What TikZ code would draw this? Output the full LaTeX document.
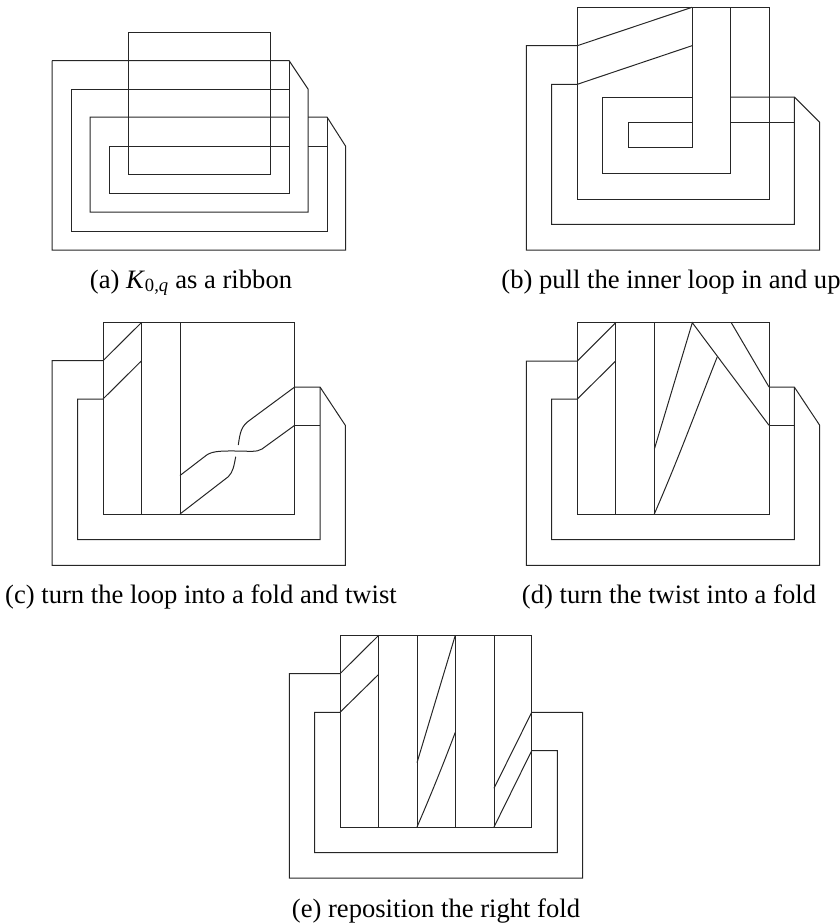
\documentclass[tikz,border=0pt]{standalone}
\usepackage{fontspec}
\setmainfont{Liberation Serif}
\usetikzlibrary{positioning}

\begin{document}
\begin{tikzpicture}[
  x=1pt, y=-1pt,
  every node/.style={font=\fontsize{26.6}{30}\selectfont, align=center},
  ribbon/.style ={line width=1pt, line join=miter, black!85},
  caption/.style={anchor=base, inner sep=0pt},
]
\useasboundingbox (0,0) rectangle (840,924);

% Panel a: ribbon
\draw[ribbon] (128,32) rectangle (270,174);
\draw[ribbon] (52,60.5) -- (289,60.5) -- (308,89) -- (308,212) -- (90,212) -- (90,117) -- (289,117);
\draw[ribbon] (308,117) -- (327,117) -- (345.5,146) -- (345.5,250) -- (52,250) -- (52,60.5);
\draw[ribbon] (71,89) -- (289,89);
\draw[ribbon] (289,60.5) -- (289,193) -- (109,193) -- (109,146) -- (289,146);
\draw[ribbon] (308,146) -- (327,146);
\draw[ribbon] (327,117) -- (327,231) -- (71,231) -- (71,89);
\node[caption] (capa) at (191,288) {(a) \textit{K}\textsubscript{0,\textit{q}} as a ribbon};

% Panel b: inner loop pulled up
\draw[ribbon] (577.3,7.3) rectangle (769,199);
\draw[ribbon] (692,7.3) -- (692,147.7) -- (628,147.7) -- (628,122.3) -- (692,122.3);
\draw[ribbon] (730.3,7.3) -- (730.3,173.3) -- (602.7,173.3) -- (602.7,97) -- (692,97);
\draw[ribbon] (730.3,97) -- (794.3,97) -- (819.7,122.3) -- (819.7,250) -- (526.3,250) -- (526.3,45.7) -- (577.3,45.7) -- (692,7.3);
\draw[ribbon] (730.3,122.3) -- (794.3,122.3);
\draw[ribbon] (794.3,97) -- (794.3,224.3) -- (551.7,224.3) -- (551.7,84.3) -- (577.3,84.3) -- (692,45.7);
\node[caption] (capb) at (671,288) {(b) pull the inner loop in and up};

% Panel c: fold and twist
\draw[ribbon] (103,322.7) rectangle (294.7,514);
\draw[ribbon] (141.3,322.7) -- (141.3,514);
\draw[ribbon] (180,322.7) -- (180,514);
\draw[ribbon] (294.7,387) -- (320,387) -- (345.3,425.3) -- (345.3,565.3) -- (52,565.3) -- (52,360.7) -- (103,360.7) -- (141.3,322.7);
\draw[ribbon] (294.7,425.3) -- (320,425.3);
\draw[ribbon] (320,387) -- (320,539.7) -- (77.7,539.7) -- (77.7,399) -- (103,399) -- (141.3,361);
% Twist
\draw[ribbon] (180,475.5) -- (206.7,455) .. controls (213,450.5) and (225,451) .. (237,451) .. controls (248,451) and (257,452.5) .. (262,449) -- (294.7,425.3);
\draw[ribbon] (180,514) -- (228.3,476.7) .. controls (233,472) and (234,466) .. (235.7,456.7);
\draw[ribbon] (238.3,445) .. controls (240,433) and (241,426) .. (250,420) -- (294.7,387);
\node[caption] (capc) at (201,603) {(c) turn the loop into a fold and twist};

% Panel d: twist becomes a fold
\draw[ribbon] (577.3,322.7) rectangle (769,514);
\draw[ribbon] (615.7,322.7) -- (615.7,514);
\draw[ribbon] (654.3,322.7) -- (654.3,514);
\draw[ribbon] (769,387) -- (794.3,387) -- (819.7,425.3) -- (819.7,565.3) -- (526.3,565.3) -- (526.3,361) -- (577.3,361) -- (615.7,322.7);
\draw[ribbon] (769,425.3) -- (794.3,425.3);
\draw[ribbon] (794.3,387) -- (794.3,539.7) -- (551.7,539.7) -- (551.7,399) -- (577.3,399) -- (615.7,361);
\draw[ribbon] (654.3,449.3) -- (692.3,322.7) -- (769,425.3);
\draw[ribbon] (731.3,322.7) -- (769,387);
\draw[ribbon] (654.3,514) .. controls (680,455) and (700,400) .. (717.3,356.7);
\node[caption] (capd) at (669,603) {(d) turn the twist into a fold};

% Panel e: right fold moved
\draw[ribbon] (340,635.3) rectangle (531.7,827);
\draw[ribbon] (378.7,635.3) -- (378.7,827);
\draw[ribbon] (417,635.3) -- (417,827);
\draw[ribbon] (455.3,635.3) -- (455.3,827);
\draw[ribbon] (494,635.3) -- (494,827);
\draw[ribbon] (531.7,712.3) -- (582.7,712.3) -- (582.7,878) -- (289.3,878) -- (289.3,673.7) -- (340,673.7) -- (378.7,635.3);
\draw[ribbon] (531.7,750.7) -- (557.3,750.7) -- (557.3,852.7) -- (314.7,852.7) -- (314.7,712.3) -- (340,712.3) -- (378.7,674.3);
\draw[ribbon] (417,762.7) -- (455.3,635.3);
\draw[ribbon] (417,827) .. controls (430,797) and (443,765) .. (455.3,732.3);
\draw[ribbon] (494,788.3) -- (531.7,712.3);
\draw[ribbon] (494,827) -- (531.7,750.7);
\node[caption] (cape) at (436,917) {(e) reposition the right fold};

\end{tikzpicture}
\end{document}
